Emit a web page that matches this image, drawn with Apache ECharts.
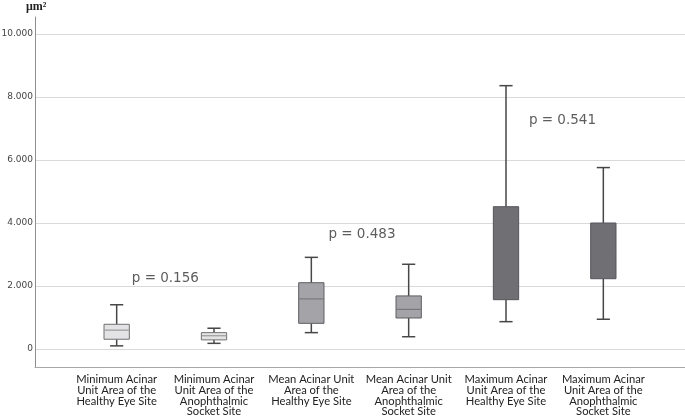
<!DOCTYPE html>
<html>
<head>
<meta charset="utf-8">
<script src="https://cdn.jsdelivr.net/npm/echarts@6/dist/echarts.min.js"></script>
<style>html,body{margin:0;padding:0;background:#fff}#c{width:685px;height:416px}</style>
</head>
<body>
<div id="c"></div>
<script>
const categories = [
  'Minimum Acinar\nUnit Area of the\nHealthy Eye Site',
  'Minimum Acinar\nUnit Area of the\nAnophthalmic\nSocket Site',
  'Mean Acinar Unit\nArea of the\nHealthy Eye Site',
  'Mean Acinar Unit\nArea of the\nAnophthalmic\nSocket Site',
  'Maximum Acinar\nUnit Area of the\nHealthy Eye Site',
  'Maximum Acinar\nUnit Area of the\nAnophthalmic\nSocket Site'
];
const whiskerLow  = [100, 180, 520, 390, 868, 945];
const q1          = [310, 290, 815, 985, 1566, 2232];
const median      = [600, 420, 1590, 1260, 2600, 3000];
const q3          = [785, 520, 2105, 1685, 4518, 4000];
const whiskerHigh = [1405, 660, 2910, 2690, 8360, 5760];
const yTicks = [0, 2000, 4000, 6000, 8000, 10000];
const pLabels = ['p = 0.156', 'p = 0.483', 'p = 0.541'];
const pX = [0.5, 2.52, 4.58];
const pY = [2250, 3620, 7250];

const fills   = ['#e3e3e5', '#e3e3e5', '#a3a3a8', '#a3a3a8', '#6f6f74', '#6f6f74'];
const borders = ['#707070', '#707070', '#5e5e62', '#5e5e62', '#56565a', '#56565a'];
const medCols = ['#8c8c8c', '#8c8c8c', '#707074', '#707074', '#6f6f74', '#6f6f74'];

const yMin = -571, yMax = 10540;
function fmt(v){ return String(v).replace(/\B(?=(\d{3})+(?!\d))/g, '.'); }

const boxData = categories.map((c, i) => [i, whiskerLow[i], q1[i], median[i], q3[i], whiskerHigh[i]]);

const chart = echarts.init(document.getElementById('c'), null, {renderer: 'canvas'});
chart.setOption({
  animation: false,
  grid: [
    {left: 35, right: 0, top: 17, bottom: 49, outerBoundsMode: 'none', containLabel: false},
    {left: 68, right: 33, top: 17, bottom: 49, outerBoundsMode: 'none', containLabel: false}
  ],
  xAxis: [
    {gridIndex: 0, type: 'value', min: 0, max: 1, axisLine: {show: true, onZero: false, lineStyle: {color: '#a8a8a8', width: 1}},
     axisTick: {show: false}, axisLabel: {show: false}, splitLine: {show: false}},
    {gridIndex: 1, type: 'category', data: categories, axisLine: {show: false}, axisTick: {show: false},
     axisLabel: {interval: 0, margin: 7, fontFamily: 'Lato', fontSize: 11.2, lineHeight: 10.8, color: '#222'}},
    {gridIndex: 1, type: 'value', min: -0.5, max: 5.5, show: false}
  ],
  yAxis: [
    {gridIndex: 0, type: 'value', min: yMin, max: yMax, splitNumber: 5,
     name: 'μm²', nameLocation: 'end', nameGap: 4,
     nameTextStyle: {fontFamily: 'Liberation Serif', fontSize: 12, fontWeight: 'bold', color: '#222', align: 'left', padding: [0, 0, 0, -9]},
     axisLine: {show: true, lineStyle: {color: '#8e8e8e', width: 1}}, axisTick: {show: false},
     axisLabel: {showMinLabel: false, showMaxLabel: false, margin: 2, fontFamily: 'DejaVu Sans', fontSize: 9, color: '#444',
                 formatter: v => yTicks.indexOf(v) >= 0 ? fmt(v) : ''},
     splitLine: {show: true, showMinLine: false, showMaxLine: false, lineStyle: {color: '#d9d9d9', width: 1}}},
    {gridIndex: 1, type: 'value', min: yMin, max: yMax, show: false}
  ],
  series: [
    {
      type: 'custom', xAxisIndex: 1, yAxisIndex: 1, data: boxData,
      renderItem: function(params, api){
        const idx = api.value(0);
        const band = api.size([1, 0])[0];
        const bw = band * 0.26, cw = bw * 0.52;
        const pLo = api.coord([idx, api.value(1)]);
        const pQ1 = api.coord([idx, api.value(2)]);
        const pMd = api.coord([idx, api.value(3)]);
        const pQ3 = api.coord([idx, api.value(4)]);
        const pHi = api.coord([idx, api.value(5)]);
        const x = pLo[0];
        const ws = {stroke: '#474747', lineWidth: 1.5};
        return {type: 'group', children: [
          {type: 'line', shape: {x1: x, y1: pHi[1], x2: x, y2: pQ3[1]}, style: ws},
          {type: 'line', shape: {x1: x, y1: pQ1[1], x2: x, y2: pLo[1]}, style: ws},
          {type: 'line', shape: {x1: x - cw/2, y1: pHi[1], x2: x + cw/2, y2: pHi[1]}, style: ws},
          {type: 'line', shape: {x1: x - cw/2, y1: pLo[1], x2: x + cw/2, y2: pLo[1]}, style: ws},
          {type: 'rect', shape: {x: x - bw/2, y: pQ3[1], width: bw, height: pQ1[1] - pQ3[1]},
           style: {fill: fills[idx], stroke: borders[idx], lineWidth: 1}},
          {type: 'line', shape: {x1: x - bw/2 + 0.5, y1: pMd[1], x2: x + bw/2 - 0.5, y2: pMd[1]},
           style: {stroke: medCols[idx], lineWidth: 1}}
        ]};
      }
    },
    {
      type: 'scatter', xAxisIndex: 2, yAxisIndex: 1, symbolSize: 0, silent: true,
      data: pLabels.map((t, i) => ({value: [pX[i], pY[i]], name: t})),
      label: {show: true, position: 'inside', formatter: p => p.name, fontFamily: 'DejaVu Sans', fontSize: 13.5, color: '#333'}
    }
  ]
});
</script>
</body>
</html>
